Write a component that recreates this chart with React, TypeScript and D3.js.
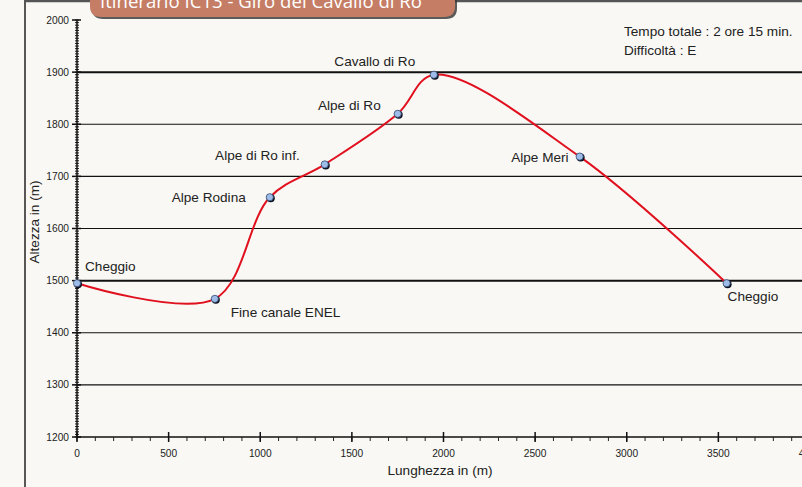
import React, { useEffect, useRef } from "react";
import * as d3 from "d3";

// profilo altimetrico: distanza (m), quota (m)
const places = ["Cheggio", "Fine canale ENEL", "Alpe Rodina", "Alpe di Ro inf.", "Alpe di Ro", "Cavallo di Ro", "Alpe Meri", "Cheggio"];
const distances = [0, 752, 1052, 1352, 1750, 1947, 2743, 3545];
const altitudes = [1495, 1465, 1660, 1723, 1820, 1895, 1738, 1495];
const xTicks = [0, 500, 1000, 1500, 2000, 2500, 3000, 3500, 4000];
const yTicks = [1200, 1300, 1400, 1500, 1600, 1700, 1800, 1900, 2000];

// label placement: [dx, dy, anchor]
const labelPos: [number, number, string][] = [
  [8, -12, "start"],
  [16, 18, "start"],
  [-24, 5, "end"],
  [-25, -4, "end"],
  [-17, -4, "end"],
  [-59, -9, "middle"],
  [-11, 5, "end"],
  [1, 18, "start"],
];

const W = 802;
const H = 487;
const FONT = "'Liberation Sans', Arial, sans-serif";
const FS = 13.6;

export default function App() {
  const ref = useRef<SVGSVGElement>(null);

  useEffect(() => {
    const svg = d3.select(ref.current);
    svg.selectAll("*").remove();

    const x = d3.scaleLinear().domain([0, 4000]).range([77, 810]);
    const y = d3.scaleLinear().domain([1200, 2000]).range([437, 20]);

    svg.append("rect").attr("width", W).attr("height", H).attr("fill", "#f9f8f4");

    // outer frame
    svg.append("line").attr("x1", 25).attr("x2", 25).attr("y1", 0).attr("y2", H)
      .attr("stroke", "#222").attr("stroke-width", 1.5);
    svg.append("line").attr("x1", 25).attr("x2", W).attr("y1", 1).attr("y2", 1)
      .attr("stroke", "#555").attr("stroke-width", 2.5);

    // title tab
    const tab = svg.append("g");
    tab.append("path")
      .attr("d", "M92,-20 H457 V8 Q457,19 446,19 H103 Q92,19 92,8 Z")
      .attr("fill", "#333").attr("opacity", 0.8);
    tab.append("path")
      .attr("d", "M90,-20 H455 V6 Q455,17 444,17 H101 Q90,17 90,6 Z")
      .attr("fill", "#c57d65");
    tab.append("text").attr("x", 100).attr("y", 8)
      .attr("font-family", "'Open Sans', sans-serif").attr("font-size", 19)
      .attr("fill", "#fff").attr("textLength", 322).attr("lengthAdjust", "spacingAndGlyphs")
      .text("Itinerario IC13 - Giro del Cavallo di Ro");

    // gridlines
    svg.append("g").selectAll("line")
      .data(yTicks.filter(d => d > 1200 && d < 2000))
      .join("line")
      .attr("x1", 77).attr("x2", W)
      .attr("y1", d => y(d)).attr("y2", d => y(d))
      .attr("stroke", "#111")
      .attr("stroke-width", d => (d === 1900 || d === 1500 ? 2 : 1.2));

    // y axis
    const yMinor = d3.range(1200, 2001, 5);
    const yAx = svg.append("g");
    yAx.selectAll("line.minor").data(yMinor).join("line").attr("class", "minor")
      .attr("x1", 75).attr("x2", 79).attr("y1", d => y(d)).attr("y2", d => y(d))
      .attr("stroke", "#222").attr("stroke-width", 1);
    yAx.selectAll("line.major").data(yTicks).join("line").attr("class", "major")
      .attr("x1", 72).attr("x2", 81).attr("y1", d => y(d)).attr("y2", d => y(d))
      .attr("stroke", "#111").attr("stroke-width", 1.5);
    yAx.append("line").attr("x1", 77).attr("x2", 77).attr("y1", y(2000)).attr("y2", y(1200))
      .attr("stroke", "#111").attr("stroke-width", 1.5);
    yAx.selectAll("text").data(yTicks).join("text")
      .attr("x", 69).attr("y", d => y(d) + 3.6).attr("text-anchor", "end")
      .attr("font-family", FONT).attr("font-size", 10.2).attr("fill", "#222")
      .text(d => d);

    // x axis
    const xMinor = d3.range(0, 4001, 100);
    const xAx = svg.append("g");
    xAx.append("line").attr("x1", 77).attr("x2", W).attr("y1", 437).attr("y2", 437)
      .attr("stroke", "#111").attr("stroke-width", 1.5);
    xAx.selectAll("line.minor").data(xMinor).join("line").attr("class", "minor")
      .attr("x1", d => x(d)).attr("x2", d => x(d)).attr("y1", 437).attr("y2", 441)
      .attr("stroke", "#222").attr("stroke-width", 1);
    xAx.selectAll("line.major").data(xTicks).join("line").attr("class", "major")
      .attr("x1", d => x(d)).attr("x2", d => x(d)).attr("y1", 432).attr("y2", 442)
      .attr("stroke", "#111").attr("stroke-width", 1.5);
    xAx.selectAll("text").data(xTicks).join("text")
      .attr("x", d => x(d)).attr("y", 457).attr("text-anchor", "middle")
      .attr("font-family", FONT).attr("font-size", 10.2).attr("fill", "#222")
      .text(d => d);

    // axis titles
    svg.append("text").attr("x", 440).attr("y", 475).attr("text-anchor", "middle")
      .attr("font-family", FONT).attr("font-size", FS).attr("fill", "#222")
      .text("Lunghezza in (m)");
    svg.append("text").attr("transform", "translate(39,222) rotate(-90)")
      .attr("text-anchor", "middle")
      .attr("font-family", FONT).attr("font-size", FS).attr("fill", "#222")
      .text("Altezza in (m)");

    // info
    svg.append("text").attr("x", 624).attr("y", 36)
      .attr("font-family", FONT).attr("font-size", FS).attr("fill", "#222")
      .text("Tempo totale : 2 ore 15 min.");
    svg.append("text").attr("x", 624).attr("y", 55)
      .attr("font-family", FONT).attr("font-size", FS).attr("fill", "#222")
      .text("Difficoltà : E");

    // profile
    const pts = distances.map((d, i) => [d, altitudes[i]] as [number, number]);
    const line = d3.line<[number, number]>()
      .x(d => x(d[0])).y(d => y(d[1]))
      .curve(d3.curveCatmullRom.alpha(0.5));
    svg.append("path").attr("d", line(pts))
      .attr("fill", "none").attr("stroke", "#e0101e").attr("stroke-width", 2);

    const m = svg.append("g").selectAll("g").data(pts).join("g")
      .attr("transform", d => `translate(${x(d[0])},${y(d[1])})`);
    m.append("circle").attr("cx", 1).attr("cy", 1).attr("r", 4).attr("fill", "#0b0f1e");
    m.append("circle").attr("r", 3.6).attr("fill", "#9dbde8")
      .attr("stroke", "#34476e").attr("stroke-width", 0.8);

    svg.append("g").selectAll("text").data(pts).join("text")
      .attr("x", (d, i) => x(d[0]) + labelPos[i][0])
      .attr("y", (d, i) => y(d[1]) + labelPos[i][1])
      .attr("text-anchor", (d, i) => labelPos[i][2])
      .attr("font-family", FONT).attr("font-size", FS).attr("fill", "#222")
      .text((d, i) => places[i]);
  }, []);

  return (
    <svg ref={ref} width={W} height={H}
      style={{ position: "absolute", left: 0, top: 0, display: "block" }} />
  );
}
